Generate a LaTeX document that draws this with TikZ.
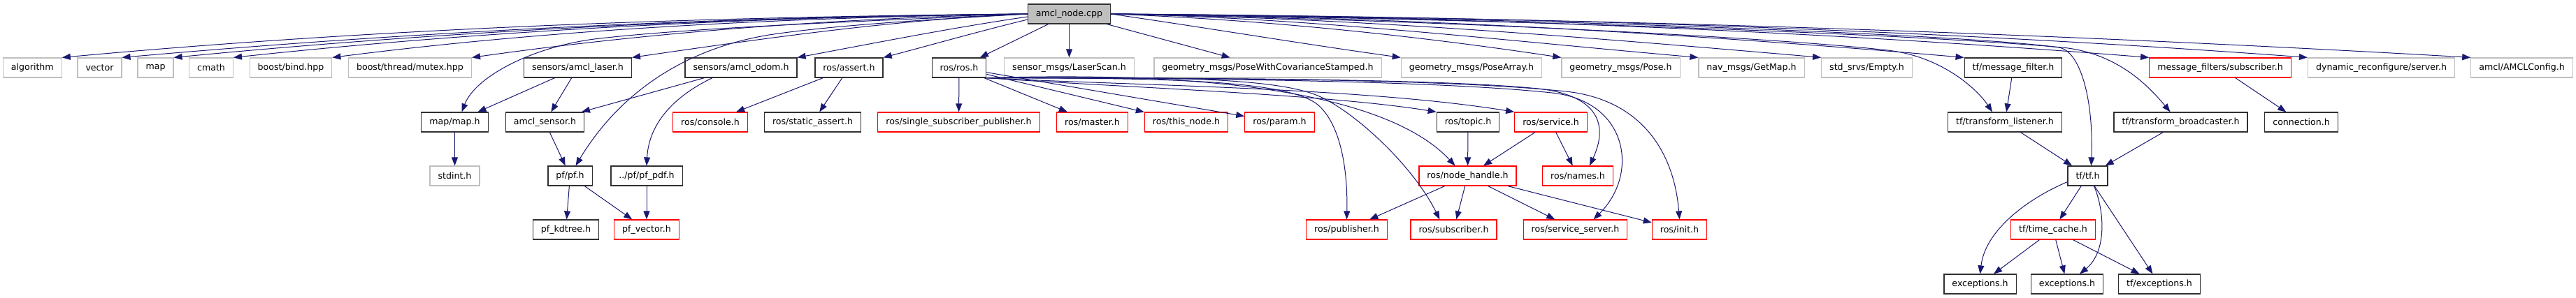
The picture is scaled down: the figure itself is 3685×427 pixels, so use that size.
\documentclass[tikz,border=0pt]{standalone}
\usepackage{fontspec}
\setmainfont{DejaVu Sans}
\usetikzlibrary{arrows.meta}
\definecolor{edgeblue}{HTML}{191970}
\definecolor{sysgray}{HTML}{BFBFBF}
\definecolor{boxline}{HTML}{303030}
\begin{document}
\begin{tikzpicture}[x=1pt,y=1pt]
\tikzstyle{every node}+=[font=\fontsize{12.6}{15}\selectfont, minimum height=28pt, inner xsep=11.5pt, inner ysep=0pt, line width=1.2pt]
\tikzstyle{hdr}=[draw=boxline]
\tikzstyle{sys}=[draw=sysgray]
\tikzstyle{nodoc}=[draw=red]
\tikzstyle{inc}=[draw=edgeblue, line width=1pt, -{Triangle[length=12pt,width=9pt]}]
\useasboundingbox (0,0) rectangle (3685,-427);
\node [hdr, fill=sysgray] (amclnode) at (1529.5,-20) {amcl\_node.cpp};
\node [sys] (algorithm) at (46.3,-97) {algorithm};
\node [sys] (vector) at (142.5,-97) {vector};
\node [sys] (stdmap) at (222.5,-97) {map};
\node [sys] (cmath) at (302,-97) {cmath};
\node [sys] (bind) at (416,-97) {boost/bind.hpp};
\node [sys] (mutex) at (586.5,-97) {boost/thread/mutex.hpp};
\node [hdr] (laser) at (826.5,-97) {sensors/amcl\_laser.h};
\node [hdr] (odom) at (1060,-97) {sensors/amcl\_odom.h};
\node [hdr] (assert) at (1214.5,-97) {ros/assert.h};
\node [hdr] (rosh) at (1372,-97) {ros/ros.h};
\node [sys] (laserscan) at (1529.5,-97) {sensor\_msgs/LaserScan.h};
\node [sys] (posecov) at (1813.5,-97) {geometry\_msgs/PoseWithCovarianceStamped.h};
\node [sys] (posearray) at (2105,-97) {geometry\_msgs/PoseArray.h};
\node [sys] (pose) at (2318.5,-97) {geometry\_msgs/Pose.h};
\node [sys] (getmap) at (2505.5,-97) {nav\_msgs/GetMap.h};
\node [sys] (empty) at (2670.5,-97) {std\_srvs/Empty.h};
\node [hdr] (msgfilter) at (2880,-97) {tf/message\_filter.h};
\node [nodoc] (mfsub) at (3176,-97) {message\_filters/subscriber.h};
\node [sys] (dynrec) at (3406.5,-97) {dynamic\_reconfigure/server.h};
\node [sys] (amclcfg) at (3607.5,-97) {amcl/AMCLConfig.h};
\node [hdr] (mapmap) at (650.5,-175) {map/map.h};
\node [hdr] (sensor) at (779.5,-175) {amcl\_sensor.h};
\node [nodoc] (console) at (1016,-175) {ros/console.h};
\node [hdr] (sassert) at (1162.5,-175) {ros/static\_assert.h};
\node [nodoc] (sspub) at (1371.5,-175) {ros/single\_subscriber\_publisher.h};
\node [nodoc] (master) at (1562.5,-175) {ros/master.h};
\node [nodoc] (thisnode) at (1697,-175) {ros/this\_node.h};
\node [nodoc] (param) at (1830.5,-175) {ros/param.h};
\node [hdr] (topic) at (2100,-175) {ros/topic.h};
\node [nodoc] (service) at (2218.5,-175) {ros/service.h};
\node [hdr] (listener) at (2868,-175) {tf/transform\_listener.h};
\node [hdr] (broadcaster) at (3119.5,-175) {tf/transform\_broadcaster.h};
\node [hdr] (connection) at (3292,-175) {connection.h};
\node [sys] (stdint) at (650.5,-252) {stdint.h};
\node [hdr] (pf) at (815.5,-252) {pf/pf.h};
\node [hdr] (pfpdf) at (925,-252) {../pf/pf\_pdf.h};
\node [nodoc] (nodehandle) at (2099.5,-252) {ros/node\_handle.h};
\node [nodoc] (names) at (2257,-252) {ros/names.h};
\node [hdr] (tf) at (2986.5,-252) {tf/tf.h};
\node [hdr] (kdtree) at (809.5,-329) {pf\_kdtree.h};
\node [nodoc] (pfvector) at (925,-329) {pf\_vector.h};
\node [nodoc] (publisher) at (1926.5,-329) {ros/publisher.h};
\node [nodoc] (subscriber) at (2079.5,-329) {ros/subscriber.h};
\node [nodoc] (srvserver) at (2253.5,-329) {ros/service\_server.h};
\node [nodoc] (init) at (2402.5,-329) {ros/init.h};
\node [nodoc] (timecache) at (2937,-329) {tf/time\_cache.h};
\node [hdr] (exc) at (2832.5,-407) {exceptions.h};
\node [hdr] (tfexcb) at (2957,-407) {exceptions.h};
\node [hdr] (tfexc) at (3089,-407) {tf/exceptions.h};
\draw [inc] (amclnode.west) .. controls (1009,-24) and (549,-40) .. (algorithm.north east);
\draw [inc] (amclnode.west) .. controls (1038,-24) and (606,-44) .. (vector.north east);
\draw [inc] (amclnode.west) .. controls (1063,-24) and (655,-43) .. (stdmap.north east);
\draw [inc] (amclnode.west) .. controls (1091,-24) and (712,-42) .. (cmath.north east);
\draw [inc] (amclnode.west) .. controls (1138,-25) and (807,-40) .. (bind.north east);
\draw [inc] (amclnode.west) .. controls (1205,-26) and (940,-45) .. (mutex.north east);
\draw [inc] (amclnode.west) .. controls (1281,-28) and (1093,-55) .. (laser.north east);
\draw [inc] ([yshift=-4pt]amclnode.west) .. controls (1360,-40) and (1250,-62) .. (odom.north east);
\draw [inc] ([yshift=-8pt]amclnode.west) .. controls (1400,-45) and (1330,-65) .. (assert.north east);
\draw [inc] (amclnode) -- (rosh);
\draw [inc] (amclnode) -- (laserscan);
\draw [inc] (amclnode) -- (posecov);
\draw [inc] (amclnode.east) .. controls (1727,-40) and (1864,-63) .. (posearray.north west);
\draw [inc] (amclnode.east) .. controls (1803,-28) and (2018,-50) .. (pose.north west);
\draw [inc] (amclnode.east) .. controls (1869,-25) and (2149,-58) .. (getmap.north west);
\draw [inc] (amclnode.east) .. controls (1928,-25) and (2266,-53) .. (empty.north west);
\draw [inc] (amclnode.east) .. controls (1996,-24) and (2403,-47) .. (msgfilter.north west);
\draw [inc] (amclnode.east) .. controls (2084,-24) and (2579,-43) .. (mfsub.north west);
\draw [inc] (amclnode.east) .. controls (2160,-24) and (2730,-40) .. (dynrec.north west);
\draw [inc] (amclnode.east) .. controls (2238,-25) and (2886,-45) .. (amclcfg.north west);
\draw [inc] (amclnode.west) .. controls (1300,-28) and (1000,-38) .. (850,-56) .. controls (760,-68) and (680,-110) .. ([xshift=10pt]mapmap.north);
\draw [inc] (amclnode.west) .. controls (1350,-27) and (1200,-35) .. (1100,-50) .. controls (950,-75) and (870,-160) .. ([xshift=8pt]pf.north);
\draw [inc] (amclnode.east) .. controls (2100,-30) and (2550,-55) .. (2700,-72) .. controls (2780,-81) and (2830,-130) .. ([xshift=-18pt]listener.north);
\draw [inc] (amclnode.east) .. controls (2200,-25) and (2820,-50) .. (2945,-68) .. controls (2975,-72.3) and (2995,-140) .. ([xshift=5pt]tf.north);
\draw [inc] (amclnode.east) .. controls (2200,-28) and (2750,-50) .. (2950,-68) .. controls (3030,-76) and (3075,-125) .. ([xshift=-15pt]broadcaster.north);
\draw [inc] (laser) -- (mapmap);
\draw [inc] (laser) -- (sensor);
\draw [inc] (odom) -- (sensor);
\draw [inc] ([xshift=-41pt]odom.south) .. controls (960,-140) and (928,-180) .. (pfpdf.north);
\draw [inc] (assert) -- (console);
\draw [inc] (assert) -- (sassert);
\draw [inc] (rosh) -- (sspub);
\draw [inc] (rosh) -- (master);
\draw [inc] (rosh) -- (thisnode);
\draw [inc] (rosh) -- (param);
\draw [inc] (rosh.south east) .. controls (1600,-125) and (1900,-135) .. (topic.north west);
\draw [inc] (rosh.south east) .. controls (1600,-122) and (1950,-125) .. (service.north west);
\draw [inc] (rosh.south east) .. controls (1800,-100) and (2000,-150) .. ([xshift=-18pt]nodehandle.north);
\draw [inc] (rosh.south east) .. controls (1650,-112) and (1840,-113) .. (1885,-150) .. controls (1920,-180) and (1928,-250) .. (publisher.north);
\draw [inc] (rosh.south east) .. controls (1650,-110) and (1820,-110) .. (1885,-137) .. controls (1935,-158) and (2020,-235) .. ([xshift=-20pt]subscriber.north);
\draw [inc] (rosh.south east) .. controls (1700,-112) and (2050,-112) .. (2200,-127) .. controls (2275,-135) and (2305,-170) .. ([xshift=17pt]names.north);
\draw [inc] (rosh.south east) .. controls (1700,-112) and (2050,-115) .. (2220,-133) .. controls (2330,-145) and (2345,-250) .. ([xshift=26pt]srvserver.north);
\draw [inc] (rosh.south east) .. controls (1700,-112) and (2060,-112) .. (2240,-131) .. controls (2350,-143) and (2395,-220) .. (init.north);
\draw [inc] (mapmap) -- (stdint);
\draw [inc] (sensor) -- (pf);
\draw [inc] (pf) -- (kdtree);
\draw [inc] (pf) -- (pfvector);
\draw [inc] (pfpdf) -- (pfvector);
\draw [inc] (topic) -- (nodehandle);
\draw [inc] (service) -- (nodehandle);
\draw [inc] (service) -- (names);
\draw [inc] (nodehandle) -- (publisher);
\draw [inc] (nodehandle) -- (subscriber);
\draw [inc] (nodehandle) -- (srvserver);
\draw [inc] (nodehandle) -- (init);
\draw [inc] (msgfilter) -- (listener);
\draw [inc] (listener) -- (tf);
\draw [inc] (broadcaster) -- (tf);
\draw [inc] (mfsub) -- (connection);
\draw [inc] (tf) -- (timecache);
\draw [inc] ([yshift=6pt]tf.south west) .. controls (2900,-285) and (2840,-330) .. (exc.north);
\draw [inc] ([xshift=9pt]tf.south) .. controls (3010,-300) and (3015,-360) .. ([xshift=18pt]tfexcb.north);
\draw [inc] (tf) -- (tfexc);
\draw [inc] (timecache) -- (exc);
\draw [inc] (timecache) -- (tfexcb);
\draw [inc] (timecache) -- (tfexc);
\end{tikzpicture}
\end{document}
